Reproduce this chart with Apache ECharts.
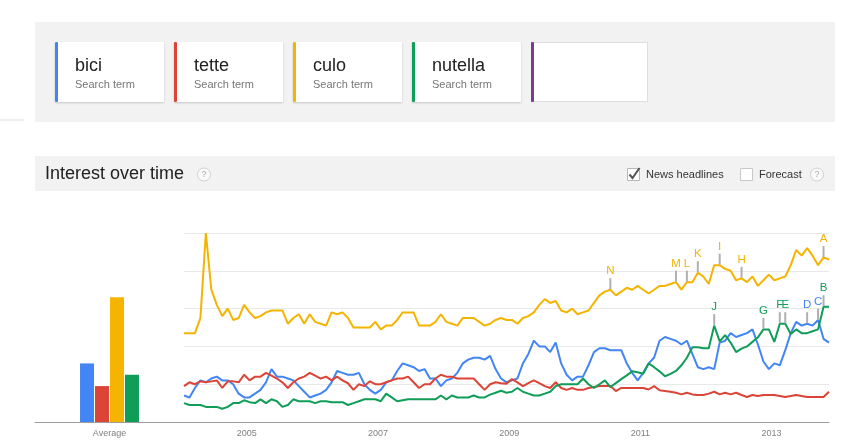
<!DOCTYPE html>
<html>
<head>
<meta charset="utf-8">
<title>Interest over time</title>
<style>
  html, body { margin: 0; padding: 0; background: #fff; }
  #chart { width: 857px; height: 446px; }
</style>
<script src="https://cdn.jsdelivr.net/npm/echarts@6/dist/echarts.min.js"></script>
</head>
<body>
<div id="chart"></div>
<script>
// search terms and their average bars
const terms = ['bici', 'tette', 'culo', 'nutella'];
const averages = [31, 19, 66, 25];
const yearLabels = [2005, 2007, 2009, 2011, 2013];

// monthly interest, Jan 2004 .. Nov 2013
const bici = [14, 13, 18, 22, 21, 23, 24, 22, 22, 20, 15, 13, 13, 15, 17, 21, 28, 24, 24, 23,
  22, 19, 16, 13, 14, 15, 17, 21, 27, 26, 25, 25, 26, 20, 17, 15, 17, 21, 22, 27,
  31, 30, 29, 27, 28, 23, 23, 19, 22, 23, 26, 31, 33, 34, 34, 33, 35, 28, 23, 21,
  22, 23, 31, 36, 43, 40, 40, 37, 42, 31, 25, 22, 24, 24, 30, 37, 39, 39, 38, 38,
  38, 31, 26, 22, 26, 31, 34, 43, 45, 44, 43, 41, 43, 36, 29, 28, 29, 28, 42, 43,
  47, 45, 46, 47, 49, 41, 32, 28, 31, 30, 38, 47, 53, 51, 52, 51, 54, 44, 42];
const tette = [19, 21, 20, 21.5, 21, 21.5, 22, 18, 21.5, 21.5, 21, 25, 22, 24, 24, 26, 24.5, 23, 21, 18,
  21, 23, 24, 26, 24.5, 23, 24, 22, 24, 22, 20.5, 17, 20, 19, 21.5, 20, 20, 21, 22, 23,
  23, 24, 21, 18, 20, 20, 23, 25, 24, 24, 23, 23, 23, 23, 20, 17, 20, 21, 20.5, 20.3,
  22.7, 21, 19, 20.6, 22, 20.6, 19, 18, 21, 18, 17, 18, 17, 17, 18, 18.5, 19, 19, 19, 16.4,
  18, 18, 18, 18, 18, 17.2, 19, 16.8, 16.4, 16, 15.5, 14.6, 15.5, 14.6, 14.3, 14.3, 15, 16, 14.6, 15.5,
  14.6, 15.5, 14.3, 13.2, 14.3, 13.8, 14.3, 14.3, 14.3, 13.8, 13.2, 13.8, 14.3, 13.8, 13.2, 13.2, 13.2, 13.2, 16];
const culo = [47, 47, 47, 55, 100, 70, 62, 56, 60, 54, 55, 62, 58, 55, 56, 58, 59, 59, 59, 52,
  55, 57, 52, 57, 53, 52, 51, 58, 57, 58, 55, 50, 50, 50, 50, 53, 49, 51, 51, 54,
  58, 58, 58, 51, 51, 51, 53, 57, 53, 52, 51, 55, 55, 55, 53, 51, 52, 54, 55, 54,
  54, 52, 55, 56, 58, 62, 65, 63, 64, 59, 58, 60, 57, 58, 59, 63, 67, 69, 70, 67,
  69, 71, 70, 72, 70, 68, 70, 72, 72, 73, 74, 70, 74, 74, 79, 77, 73, 83, 83, 81,
  80, 75, 76, 74, 77, 72, 75, 78, 75, 76, 77, 83, 91, 88, 92, 88, 83, 87, 86];
const nutella = [10, 9, 9, 9, 8, 8, 8, 7, 8, 10, 10, 11.5, 10.5, 10, 12, 10, 12, 11, 8, 9,
  12, 11, 11, 11, 10, 11, 11, 10.5, 10.5, 10.5, 9, 10, 11, 12, 12, 12, 11, 15, 13, 11,
  11.5, 12, 12, 12, 12, 12, 12, 14, 12, 14, 13, 13, 13, 14, 13, 13, 14.5, 15.5, 16.5, 15.5,
  16, 18, 16, 15, 14, 14, 15, 16, 19, 20, 20, 20, 20, 23, 20, 18, 20, 22, 18.5, 20.6,
  22.7, 24.7, 26.8, 26.3, 25.5, 31, 29, 26.8, 24.2, 25.5, 27, 30, 34, 39.5, 39.5, 39, 39, 51, 42.7, 46,
  42, 37, 38.8, 40, 42.4, 44.8, 49, 49, 42.4, 52, 52, 46.5, 49, 47, 47, 48, 49, 61, 61];

// news headline markers: letter, term index, month index
const newsLetters = ['A', 'B', 'C', 'D', 'E', 'F', 'G', 'H', 'I', 'J', 'K', 'L', 'M', 'N'];
const newsTerm = [2, 3, 0, 0, 3, 3, 3, 2, 2, 3, 2, 2, 2, 2];
const newsMonth = [117, 117, 116, 114, 110, 109, 106, 102, 98, 97, 94, 92, 90, 78];

const colors = ['#4285f4', '#db4437', '#f4b400', '#0f9d58'];
const font = 'Arial, "Liberation Sans", sans-serif';
const series = [bici, tette, culo, nutella];

// month index -> fractional year (points sit mid-month)
function monthX(i) { return 2004 + (i + 0.5) / 12; }

const chart = echarts.init(document.getElementById('chart'), null, { renderer: 'canvas' });

// header graphics
const graphics = [];
graphics.push({ type: 'rect', shape: { x: 0, y: 119.5, width: 24, height: 1 }, style: { fill: '#dcdcdc' } });
graphics.push({ type: 'rect', shape: { x: 35, y: 22, width: 800, height: 100 }, style: { fill: '#f2f2f2' } });
const cardX = [55, 174, 293, 412];
terms.forEach(function (t, k) {
  graphics.push({
    type: 'rect', shape: { x: cardX[k], y: 42, width: 109, height: 60 },
    style: { fill: '#fff', shadowBlur: 2, shadowOffsetY: 1, shadowColor: 'rgba(0,0,0,0.18)' }
  });
  graphics.push({ type: 'rect', shape: { x: cardX[k], y: 42, width: 3, height: 60, r: 1 }, style: { fill: colors[k] } });
  graphics.push({
    type: 'text', x: cardX[k] + 20, y: 66,
    style: { text: t, fill: '#222', fontSize: 18, fontFamily: font, verticalAlign: 'middle' }
  });
  graphics.push({
    type: 'text', x: cardX[k] + 20, y: 85,
    style: { text: 'Search term', fill: '#777', fontSize: 11, fontFamily: font, verticalAlign: 'middle' }
  });
});
graphics.push({ type: 'rect', shape: { x: 531.5, y: 42.5, width: 116, height: 59 }, style: { fill: '#fff', stroke: '#dedede', lineWidth: 1 } });
graphics.push({ type: 'rect', shape: { x: 531, y: 42, width: 3, height: 60, r: 1 }, style: { fill: '#7e3794' } });

// "Interest over time" bar
graphics.push({ type: 'rect', shape: { x: 35, y: 156, width: 800, height: 35 }, style: { fill: '#f2f2f2' } });
graphics.push({
  type: 'text', x: 45, y: 174,
  style: { text: 'Interest over time', fill: '#222', fontSize: 18, fontFamily: font, verticalAlign: 'middle' }
});
[204, 817].forEach(function (cx) {
  graphics.push({ type: 'circle', shape: { cx: cx, cy: 174.5, r: 6.5 }, style: { fill: '#fafafa', stroke: '#d0d0d0', lineWidth: 1 } });
  graphics.push({
    type: 'text', x: cx, y: 175,
    style: { text: '?', fill: '#aaa', fontSize: 9, fontFamily: font, align: 'center', verticalAlign: 'middle' }
  });
});
graphics.push({ type: 'rect', shape: { x: 627.5, y: 168.5, width: 12, height: 12 }, style: { fill: '#fff', stroke: '#b8b8b8', lineWidth: 1 } });
graphics.push({
  type: 'polyline', shape: { points: [[629.5, 174.5], [632.5, 178], [639.5, 168]] },
  style: { stroke: '#555', lineWidth: 2, fill: null }
});
graphics.push({
  type: 'text', x: 646, y: 175,
  style: { text: 'News headlines', fill: '#333', fontSize: 11, fontFamily: font, verticalAlign: 'middle' }
});
graphics.push({ type: 'rect', shape: { x: 740.5, y: 168.5, width: 12, height: 12 }, style: { fill: '#fff', stroke: '#c8c8c8', lineWidth: 1 } });
graphics.push({
  type: 'text', x: 759, y: 175,
  style: { text: 'Forecast', fill: '#333', fontSize: 11, fontFamily: font, verticalAlign: 'middle' }
});

// line series
const lineSeries = series.map(function (vals, k) {
  return {
    name: terms[k], type: 'line', xAxisIndex: 1, yAxisIndex: 1,
    data: vals.map(function (v, i) { return [monthX(i), v]; }),
    showSymbol: false, symbol: 'none', z: 2 + (k === 3 ? 1 : 0),
    lineStyle: { color: colors[k], width: 2 }
  };
});

// average bars
const barSeries = averages.map(function (v, k) {
  return {
    name: terms[k] + ' avg', type: 'bar', xAxisIndex: 0, yAxisIndex: 0,
    data: [v], barWidth: 14, barGap: '7%',
    itemStyle: { color: colors[k] }
  };
});

// headline markers
const newsSeries = {
  type: 'scatter', xAxisIndex: 1, yAxisIndex: 1, z: 5,
  symbol: 'rect', symbolSize: [2, 11], symbolOffset: [0, -6],
  itemStyle: { color: '#b0b0b0', opacity: 1 },
  label: {
    show: true, position: 'top', distance: 1, formatter: '{b}',
    fontSize: 11.5, fontFamily: font, opacity: 1, textBorderWidth: 0
  },
  data: newsLetters.map(function (l, j) {
    const k = newsTerm[j];
    const i = newsMonth[j];
    return { name: l, value: [monthX(i), series[k][i]], label: { color: colors[k] } };
  })
};

const option = {
  animation: false,
  backgroundColor: '#fff',
  graphic: graphics,
  grid: [
    { left: 35, width: 149, top: 233, bottom: 24 },
    { left: 184, right: 28, top: 233, bottom: 24 }
  ],
  xAxis: [
    {
      type: 'category', gridIndex: 0, data: ['Average'],
      axisLine: { lineStyle: { color: '#9e9e9e' } },
      axisTick: { show: false },
      axisLabel: { color: '#808080', fontSize: 9, fontFamily: font, margin: 7 }
    },
    {
      type: 'value', gridIndex: 1, min: monthX(0), max: monthX(118),
      axisLine: { onZero: false, lineStyle: { color: '#9e9e9e' } },
      axisTick: { show: false },
      splitLine: { show: false },
      axisLabel: {
        color: '#808080', fontSize: 9, fontFamily: font, margin: 7,
        customValues: yearLabels,
        formatter: function (v) { return String(Math.round(v)); }
      }
    }
  ],
  yAxis: [
    {
      type: 'value', gridIndex: 0, min: 0, max: 100, interval: 20,
      axisLine: { show: false }, axisTick: { show: false }, axisLabel: { show: false },
      splitLine: { show: false }
    },
    {
      type: 'value', gridIndex: 1, min: 0, max: 100, interval: 20,
      axisLine: { show: false }, axisTick: { show: false }, axisLabel: { show: false },
      splitLine: { lineStyle: { color: '#e9e9e9' } }
    }
  ],
  series: barSeries.concat(lineSeries).concat([newsSeries])
};

chart.setOption(option);
</script>
</body>
</html>
